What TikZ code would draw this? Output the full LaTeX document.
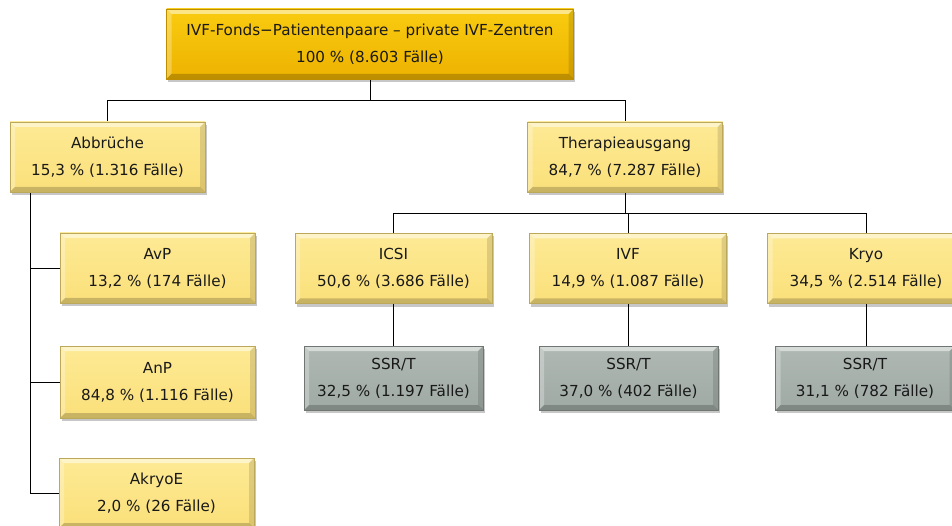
\documentclass[tikz,border=0pt]{standalone}
\usepackage{fontspec}
\setmainfont{DejaVu Sans}
\usetikzlibrary{shadows}
\definecolor{goldA}{HTML}{F9CC10}
\definecolor{goldB}{HTML}{EDB200}
\definecolor{yelA}{HTML}{FDEA95}
\definecolor{yelB}{HTML}{FBE07A}
\definecolor{grayA}{HTML}{AFB8B3}
\definecolor{grayB}{HTML}{A0AAA5}
\tikzset{
  bevel/.style={path picture={
    \coordinate (pnw) at (path picture bounding box.north west);
    \coordinate (pne) at (path picture bounding box.north east);
    \coordinate (psw) at (path picture bounding box.south west);
    \coordinate (pse) at (path picture bounding box.south east);
    \fill[white,opacity=0.5] (pnw) -- (pne) -- ([shift={(-5pt,-5pt)}]pne) -- ([shift={(5pt,-5pt)}]pnw) -- cycle;
    \fill[white,opacity=0.28] (pnw) -- (psw) -- ([shift={(5pt,5pt)}]psw) -- ([shift={(5pt,-5pt)}]pnw) -- cycle;
    \fill[black,opacity=0.2] (psw) -- (pse) -- ([shift={(-5pt,5pt)}]pse) -- ([shift={(5pt,5pt)}]psw) -- cycle;
    \fill[black,opacity=0.12] (pne) -- (pse) -- ([shift={(-5pt,5pt)}]pse) -- ([shift={(-5pt,-5pt)}]pne) -- cycle;
  }},
  box/.style={rectangle, inner sep=0pt, align=center, font=\fontsize{15.2}{27}\selectfont,
    text=black!90, line width=0.5pt,
    drop shadow={shadow xshift=1.5pt, shadow yshift=-3pt, opacity=0.22, fill=black},
    bevel},
  topbox/.style={box, top color=goldA, bottom color=goldB, draw=goldB!80!black,
    minimum width=407pt, minimum height=70pt},
  ybox/.style={box, top color=yelA, bottom color=yelB, draw=yelB!75!black,
    minimum width=195pt, minimum height=70pt},
  gbox/.style={box, top color=grayA, bottom color=grayB, draw=grayB!70!black,
    minimum width=179pt, minimum height=64pt},
  conn/.style={draw=black, line width=1pt}
}
\begin{document}
\begin{tikzpicture}[x=1pt,y=-1pt]
\useasboundingbox (0,0) rectangle (952,526);
\clip (0,0) rectangle (952,526);
\fill[white] (0,0) rectangle (952,526);
% connectors
\coordinate (bus1) at (370.5,100.5);
\coordinate (bus2) at (625.5,213.5);
\coordinate (lv) at (30.5,192);
\draw[conn] (370.5,79) -- (bus1);
\draw[conn] (107.5,122) |- (bus1) -| (625.5,122);
\draw[conn] (625.5,192) -- (bus2);
\draw[conn] (393.5,233) |- (bus2) -| (866.5,233);
\draw[conn] (628.5,213.5) -- (628.5,233);
\draw[conn] (lv) |- (60,493.5);
\draw[conn] (30.5,268.5) -- (60,268.5);
\draw[conn] (30.5,382.5) -- (60,382.5);
\draw[conn] (393.5,304) -- (393.5,346);
\draw[conn] (628.5,304) -- (628.5,346);
\draw[conn] (866.5,304) -- (866.5,346);
% nodes
\node[topbox] (top) at (370,44) {IVF-Fonds−Patientenpaare – private IVF-Zentren\\100 \% (8.603 Fälle)};
\node[ybox] (abb) at (107.5,157) {Abbrüche\\15,3 \% (1.316 Fälle)};
\node[ybox] (ther) at (625,157) {Therapieausgang\\84,7 \% (7.287 Fälle)};
\node[ybox] (avp) at (157.5,268) {AvP\\13,2 \% (174 Fälle)};
\node[ybox,minimum height=72pt] (anp) at (157.5,382) {AnP\\84,8 \% (1.116 Fälle)};
\node[ybox] (akr) at (156.5,493) {AkryoE\\2,0 \% (26 Fälle)};
\node[ybox,minimum width=197pt] (icsi) at (393.5,268.5) {ICSI\\50,6 \% (3.686 Fälle)};
\node[ybox,minimum width=197pt] (ivf) at (628,268.5) {IVF\\14,9 \% (1.087 Fälle)};
\node[ybox,minimum width=197pt] (kryo) at (866,268.5) {Kryo\\34,5 \% (2.514 Fälle)};
\node[gbox] (s1) at (393.5,378) {SSR/T\\32,5 \% (1.197 Fälle)};
\node[gbox] (s2) at (628.5,378) {SSR/T\\37,0 \% (402 Fälle)};
\node[gbox] (s3) at (865,378) {SSR/T\\31,1 \% (782 Fälle)};
\end{tikzpicture}
\end{document}
